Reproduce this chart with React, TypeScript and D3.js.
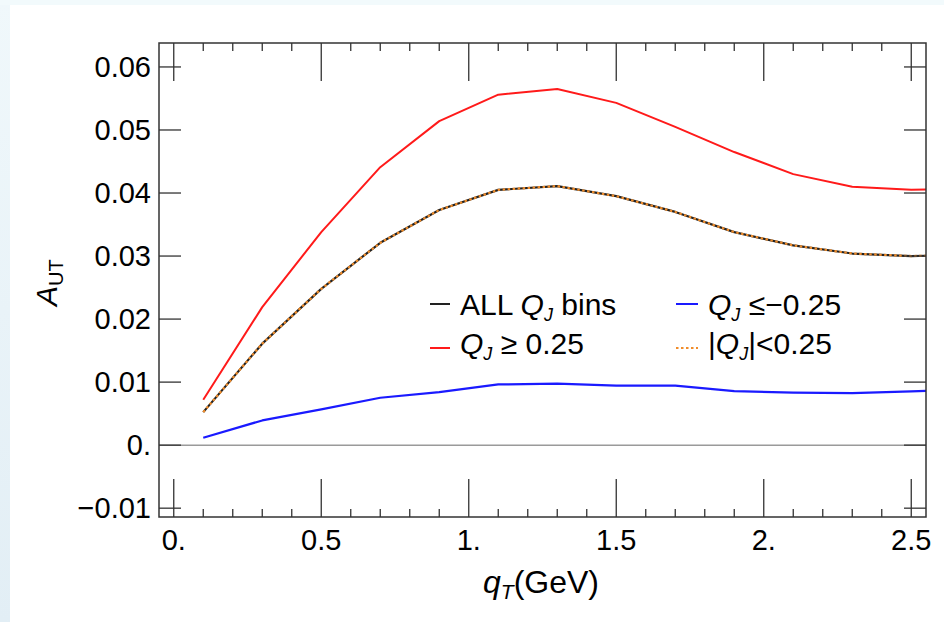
import React from "react";
import * as d3 from "d3";

const qT = [0.1, 0.3, 0.5, 0.7, 0.9, 1.1, 1.3, 1.5, 1.7, 1.9, 2.1, 2.3, 2.5, 2.7];
const allBins = [0.00524, 0.0161, 0.0248, 0.0321, 0.0373, 0.0405, 0.0411, 0.0395, 0.037, 0.0338, 0.0317, 0.0304, 0.03, 0.0302];
const qPos = [0.00721, 0.0219, 0.0338, 0.0441, 0.0514, 0.0556, 0.0565, 0.0543, 0.0505, 0.0465, 0.043, 0.041, 0.0405, 0.0408];
const qNeg = [0.00117, 0.00392, 0.00567, 0.00752, 0.0084, 0.00963, 0.00975, 0.00943, 0.00943, 0.00857, 0.00832, 0.00826, 0.00852, 0.0089];
const qMid = [0.00524, 0.0161, 0.0248, 0.0321, 0.0373, 0.0405, 0.0411, 0.0395, 0.037, 0.0338, 0.0317, 0.0304, 0.03, 0.0302];

const xMajor = [0, 0.5, 1, 1.5, 2, 2.5];
const xMajorLabels = ["0.", "0.5", "1.", "1.5", "2.", "2.5"];
const xMinor = [0.1, 0.2, 0.3, 0.4, 0.6, 0.7, 0.8, 0.9, 1.1, 1.2, 1.3, 1.4, 1.6, 1.7, 1.8, 1.9, 2.1, 2.2, 2.3, 2.4];
const yMajor = [-0.01, 0, 0.01, 0.02, 0.03, 0.04, 0.05, 0.06];
const yMajorLabels = ["\u22120.01", "0.", "0.01", "0.02", "0.03", "0.04", "0.05", "0.06"];

const W = 944, H = 622;
const L = 159, R = 926, T = 43, B = 517;
const FONT = "'Liberation Sans', Arial, Helvetica, sans-serif";

export default function App() {
  const x = d3.scaleLinear().domain([-0.05, 2.55]).range([L, R]);
  const y = d3.scaleLinear().domain([-0.0114, 0.0638]).range([B, T]);
  const line = (vals: number[]) =>
    d3.line<number>().x((_, i) => x(qT[i])).y((v) => y(v))(vals) || "";
  const axisCol = "#333";

  return (
    <div style={{ position: "fixed", left: 0, top: 0, width: W, height: H }}>
      <svg width={W} height={H} style={{ display: "block" }}>
        <defs>
          <linearGradient id="bgl" x1="0" y1="0" x2="0" y2="1">
            <stop offset="0" stopColor="#f0f8fb" />
            <stop offset="1" stopColor="#e2eef5" />
          </linearGradient>
          <clipPath id="clip">
            <rect x={L} y={T} width={R - L} height={B - T} />
          </clipPath>
        </defs>
        <rect x={0} y={0} width={W} height={H} fill="url(#bgl)" />
        <rect x={0} y={0} width={W} height={5} fill="#f2fafc" />
        <rect x={10} y={5} width={W - 10} height={H - 5} fill="#ffffff" />

        {/* zero line */}
        <line x1={L} x2={R} y1={y(0)} y2={y(0)} stroke="#9a9a9a" strokeWidth={1.5} />

        {/* curves */}
        <g clipPath="url(#clip)" fill="none" strokeLinejoin="round">
          <path d={line(qPos)} stroke="#ff1a1a" strokeWidth={2} />
          <path d={line(qNeg)} stroke="#1a1aff" strokeWidth={2.2} />
          <path d={line(allBins)} stroke="#222" strokeWidth={2.2} />
          <path d={line(qMid)} stroke="#f08c2a" strokeWidth={2.2} strokeDasharray="2.5,2.5" />
        </g>

        {/* ticks */}
        <g stroke={axisCol} strokeWidth={1.3}>
          {xMajor.map((v) => (
            <g key={"xm" + v}>
              <line x1={x(v)} x2={x(v)} y1={B} y2={B - 38} />
              <line x1={x(v)} x2={x(v)} y1={T} y2={T + 38} />
            </g>
          ))}
          {xMinor.map((v) => (
            <g key={"xn" + v}>
              <line x1={x(v)} x2={x(v)} y1={B} y2={B - 8} />
              <line x1={x(v)} x2={x(v)} y1={T} y2={T + 8} />
            </g>
          ))}
          {yMajor.map((v) => (
            <g key={"ym" + v}>
              <line x1={L} x2={L + 22} y1={y(v)} y2={y(v)} />
              <line x1={R} x2={R - 22} y1={y(v)} y2={y(v)} />
            </g>
          ))}
        </g>
        <rect x={L} y={T} width={R - L} height={B - T} fill="none" stroke={axisCol} strokeWidth={1.5} />

        {/* tick labels */}
        <g fontFamily={FONT} fontSize={29} fill="#000">
          {xMajor.map((v, i) => (
            <text key={"xl" + v} x={x(v)} y={550} textAnchor="middle">
              {xMajorLabels[i]}
            </text>
          ))}
          {yMajor.map((v, i) => (
            <text key={"yl" + v} x={L - 8} y={y(v) + 10} textAnchor="end">
              {yMajorLabels[i]}
            </text>
          ))}
        </g>

        {/* axis titles */}
        <text x={483} y={593} fontFamily={FONT} fontSize={32} fill="#000">
          <tspan fontStyle="italic">q</tspan>
          <tspan fontStyle="italic" fontSize={21} dy={6}>T</tspan>
          <tspan dy={-6}>(GeV)</tspan>
        </text>
        <text transform="translate(57,306) rotate(-90)" fontFamily={FONT} fontSize={30} fill="#000">
          <tspan fontStyle="italic">A</tspan>
          <tspan fontSize={20} dy={6}>UT</tspan>
        </text>

        {/* legend */}
        <g fontFamily={FONT} fontSize={30} fill="#000">
          <line x1={430} x2={450} y1={304} y2={304} stroke="#222" strokeWidth={2} />
          <text x={460} y={315}>
            ALL <tspan fontStyle="italic">Q</tspan>
            <tspan fontStyle="italic" fontSize={18} dy={6}>J</tspan>
            <tspan dy={-6}> bins</tspan>
          </text>
          <line x1={430} x2={450} y1={348} y2={348} stroke="#ff1a1a" strokeWidth={2} />
          <text x={460} y={354}>
            <tspan fontStyle="italic">Q</tspan>
            <tspan fontStyle="italic" fontSize={18} dy={6}>J</tspan>
            <tspan dy={-6}> {"\u2265"} 0.25</tspan>
          </text>
          <line x1={676} x2={698} y1={304} y2={304} stroke="#1a1aff" strokeWidth={2} />
          <text x={708} y={315}>
            <tspan fontStyle="italic">Q</tspan>
            <tspan fontStyle="italic" fontSize={18} dy={6}>J</tspan>
            <tspan dy={-6}> {"\u2264\u2212"}0.25</tspan>
          </text>
          <line x1={676} x2={698} y1={348} y2={348} stroke="#f08c2a" strokeWidth={2} strokeDasharray="2.5,2.5" />
          <text x={708} y={354}>
            |<tspan fontStyle="italic">Q</tspan>
            <tspan fontStyle="italic" fontSize={18} dy={6}>J</tspan>
            <tspan dy={-6}>|&lt;0.25</tspan>
          </text>
        </g>
      </svg>
    </div>
  );
}
